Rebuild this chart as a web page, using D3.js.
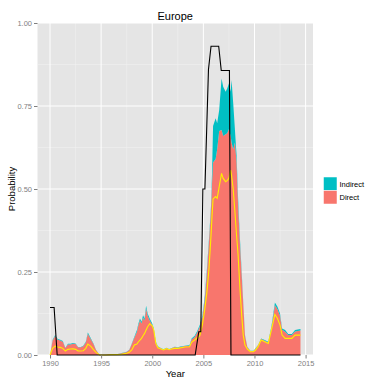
<!DOCTYPE html>
<html>
<head>
<meta charset="utf-8">
<script src="https://cdn.jsdelivr.net/npm/d3@7"></script>
<style>
  body { margin: 0; background: #fff; }
  text { font-family: "Liberation Sans", Arial, sans-serif; }
</style>
</head>
<body>
<div id="chart"></div>
<script>
// Area + yellow line sample years
const years = [1990.0, 1990.25, 1990.5, 1990.75, 1991.0, 1991.25, 1991.5, 1991.75, 1992.0, 1992.25,
  1992.5, 1992.75, 1993.0, 1993.25, 1993.5, 1993.7, 1994.0, 1994.25, 1994.5, 1994.85,
  1995.5, 1996.0, 1996.5, 1997.0, 1997.5, 1997.75, 1998.0, 1998.25, 1998.5, 1998.65,
  1998.8, 1998.95, 1999.1, 1999.25, 1999.4, 1999.55, 1999.75, 2000.0, 2000.15, 2000.35,
  2000.55, 2000.8, 2001.1, 2001.4, 2001.65, 2001.9, 2002.2, 2002.5, 2002.85, 2003.2,
  2003.65, 2003.85, 2004.15, 2004.4, 2004.65, 2004.9, 2005.15, 2005.35, 2005.55, 2005.75,
  2005.85, 2005.95, 2006.2, 2006.35, 2006.55, 2006.78, 2006.94, 2007.18, 2007.33, 2007.5,
  2007.67, 2007.76, 2007.92, 2008.09, 2008.25, 2008.4, 2008.58, 2008.75, 2008.9, 2009.07,
  2009.3, 2009.6, 2009.9, 2010.1, 2010.35, 2010.65, 2011.0, 2011.35, 2011.65, 2012.0,
  2012.25, 2012.5, 2012.7, 2013.0, 2013.3, 2013.65, 2013.97, 2014.5];

const direct = [0, 0.043, 0.057, 0.046, 0.044, 0.04, 0.021, 0.032, 0.032, 0.034,
  0.033, 0.023, 0.023, 0.026, 0.038, 0.064, 0.047, 0.033, 0.015, 0,
  0.001, 0.002, 0.002, 0.005, 0.009, 0.015, 0.033, 0.052, 0.07, 0.09,
  0.104, 0.095, 0.113, 0.104, 0.14, 0.118, 0.104, 0.09, 0.076, 0.038,
  0.025, 0.021, 0.016, 0.021, 0.017, 0.02, 0.024, 0.022, 0.025, 0.027,
  0.028, 0.047, 0.054, 0.068, 0.085, 0.113, 0.17, 0.25, 0.34, 0.44,
  0.52, 0.58, 0.59, 0.62, 0.675, 0.678, 0.66, 0.665, 0.668, 0.68,
  0.66, 0.64, 0.62, 0.64, 0.58, 0.45, 0.335, 0.24, 0.155, 0.058,
  0.024, 0.012, 0.012, 0.019, 0.029, 0.048, 0.043, 0.038, 0.08, 0.15,
  0.138, 0.118, 0.076, 0.07, 0.06, 0.06, 0.071, 0.074];

const indirect = [0, 0.002, 0.003, 0.002, 0.002, 0.002, 0.001, 0.002, 0.002, 0.002,
  0.002, 0.001, 0.001, 0.002, 0.002, 0.004, 0.003, 0.002, 0.001, 0,
  0, 0, 0, 0.001, 0.001, 0.001, 0.002, 0.003, 0.005, 0.005,
  0.006, 0.005, 0.007, 0.006, 0.008, 0.007, 0.006, 0.005, 0.004, 0.002,
  0.001, 0.001, 0.001, 0.001, 0.001, 0.001, 0.001, 0.001, 0.001, 0.001,
  0.002, 0.003, 0.004, 0.004, 0.005, 0.007, 0.01, 0.01, 0.01, 0.01,
  0.03, 0.11, 0.123, 0.078, 0.063, 0.155, 0.148, 0.128, 0.135, 0.138,
  0.133, 0.188, 0.138, 0.038, 0.02, 0.02, 0.015, 0.01, 0.005, 0.002,
  0.001, 0.001, 0.001, 0.001, 0.001, 0.002, 0.002, 0.002, 0.005, 0.008,
  0.007, 0.007, 0.004, 0.005, 0.003, 0.003, 0.004, 0.004];

const yellowLine = [0, 0.02, 0.027, 0.024, 0.023, 0.02, 0.012, 0.017, 0.018, 0.019,
  0.017, 0.012, 0.012, 0.013, 0.02, 0.033, 0.026, 0.016, 0.008, 0,
  0, 0.001, 0.001, 0.002, 0.005, 0.008, 0.015, 0.03, 0.033, 0.04,
  0.045, 0.05, 0.058, 0.065, 0.075, 0.085, 0.094, 0.088, 0.075, 0.035,
  0.022, 0.019, 0.015, 0.019, 0.016, 0.018, 0.02, 0.02, 0.022, 0.024,
  0.025, 0.038, 0.045, 0.052, 0.058, 0.09, 0.14, 0.19, 0.26, 0.36,
  0.42, 0.47, 0.477, 0.472, 0.507, 0.547, 0.532, 0.522, 0.525, 0.532,
  0.557, 0.54, 0.5, 0.43, 0.36, 0.3, 0.2, 0.12, 0.06, 0.03,
  0.018, 0.01, 0.01, 0.015, 0.025, 0.045, 0.04, 0.035, 0.075, 0.122,
  0.11, 0.09, 0.06, 0.05, 0.05, 0.05, 0.06, 0.06];

// Black line
const blackYears = [1990.0, 1990.4, 1990.7, 2004.2, 2004.55, 2004.75, 2004.95, 2005.15, 2005.5, 2005.75,
  2006.5, 2006.75, 2007.55, 2007.7, 2014.5];
const blackValues = [0.143, 0.143, 0, 0, 0.07, 0.07, 0.5, 0.5, 0.86, 0.93,
  0.93, 0.857, 0.857, 0, 0];

const xTicks = [1990, 1995, 2000, 2005, 2010, 2015];
const xMinor = [1992.5, 1997.5, 2002.5, 2007.5, 2012.5];
const yTicks = [0, 0.25, 0.5, 0.75, 1];
const yMinor = [0.125, 0.375, 0.625, 0.875];
const seriesNames = ["Indirect", "Direct"];
const seriesColors = ["#00BFC4", "#F8766D"];

const width = 384, height = 384;
const panel = { left: 37.5, right: 313, top: 23, bottom: 355 };

const svg = d3.select("#chart").append("svg")
  .attr("width", width).attr("height", height);

svg.append("rect").attr("width", width).attr("height", height).attr("fill", "#fff");

const x = d3.scaleLinear().domain([1988.775, 2015.725]).range([panel.left, panel.right]);
const y = d3.scaleLinear().domain([0, 1]).range([panel.bottom, panel.top]);

// Panel background
svg.append("rect")
  .attr("x", panel.left).attr("y", panel.top)
  .attr("width", panel.right - panel.left).attr("height", panel.bottom - panel.top)
  .attr("fill", "#E5E5E5");

const grid = svg.append("g");
grid.selectAll(".xminor").data(xMinor).enter().append("line")
  .attr("x1", d => x(d)).attr("x2", d => x(d))
  .attr("y1", panel.top).attr("y2", panel.bottom)
  .attr("stroke", "#F2F2F2").attr("stroke-width", 0.5);
grid.selectAll(".yminor").data(yMinor).enter().append("line")
  .attr("y1", d => y(d)).attr("y2", d => y(d))
  .attr("x1", panel.left).attr("x2", panel.right)
  .attr("stroke", "#F2F2F2").attr("stroke-width", 0.5);
grid.selectAll(".xmajor").data(xTicks).enter().append("line")
  .attr("x1", d => x(d)).attr("x2", d => x(d))
  .attr("y1", panel.top).attr("y2", panel.bottom)
  .attr("stroke", "#fff").attr("stroke-width", 1);
grid.selectAll(".ymajor").data(yTicks).enter().append("line")
  .attr("y1", d => y(d)).attr("y2", d => y(d))
  .attr("x1", panel.left).attr("x2", panel.right)
  .attr("stroke", "#fff").attr("stroke-width", 1);

// Stacked areas
const rows = years.map((yr, i) => ({ year: yr, Direct: direct[i], Indirect: indirect[i] }));
const stack = d3.stack().keys(["Direct", "Indirect"]);
const layers = stack(rows);
const area = d3.area()
  .x(d => x(d.data.year))
  .y0(d => y(d[0]))
  .y1(d => y(d[1]));

svg.append("g").selectAll("path").data(layers).enter().append("path")
  .attr("d", area)
  .attr("fill", d => d.key === "Direct" ? seriesColors[1] : seriesColors[0]);

// Yellow line
svg.append("path")
  .datum(years.map((yr, i) => [yr, yellowLine[i]]))
  .attr("d", d3.line().x(d => x(d[0])).y(d => y(d[1])))
  .attr("fill", "none").attr("stroke", "#FFEE00").attr("stroke-width", 1.1);

// Black line
svg.append("path")
  .datum(blackYears.map((yr, i) => [yr, blackValues[i]]))
  .attr("d", d3.line().x(d => x(d[0])).y(d => y(d[1])))
  .attr("fill", "none").attr("stroke", "#000").attr("stroke-width", 1.1);

// Axes
const xAxis = svg.append("g")
  .attr("transform", `translate(0,${panel.bottom})`)
  .call(d3.axisBottom(x).tickValues(xTicks).tickFormat(d3.format("d")).tickSize(3.5).tickPadding(2));
const yAxis = svg.append("g")
  .attr("transform", `translate(${panel.left},0)`)
  .call(d3.axisLeft(y).tickValues(yTicks).tickFormat(d3.format(".2f")).tickSize(3.5).tickPadding(2));
[xAxis, yAxis].forEach(a => {
  a.select(".domain").remove();
  a.selectAll(".tick line").attr("stroke", "#7F7F7F");
  a.selectAll(".tick text").attr("fill", "#7F7F7F").style("font-size", "7.5px");
});

// Titles
svg.append("text").attr("x", (panel.left + panel.right) / 2).attr("y", 20)
  .attr("text-anchor", "middle").style("font-size", "11px").text("Europe");
svg.append("text").attr("x", (panel.left + panel.right) / 2).attr("y", 377)
  .attr("text-anchor", "middle").style("font-size", "9.5px").text("Year");
svg.append("text")
  .attr("transform", `translate(15,${(panel.top + panel.bottom) / 2}) rotate(-90)`)
  .attr("text-anchor", "middle").style("font-size", "9.5px").text("Probability");

// Legend
const legend = svg.append("g").attr("transform", "translate(323.5,177)");
seriesNames.forEach((name, i) => {
  legend.append("rect").attr("x", 0).attr("y", i * 13.5)
    .attr("width", 13.5).attr("height", 13.5)
    .attr("fill", seriesColors[i]).attr("stroke", "#fff").attr("stroke-width", 0.5);
  legend.append("text").attr("x", 16).attr("y", i * 13.5 + 9.8)
    .style("font-size", "7.5px").text(name);
});
</script>
</body>
</html>
